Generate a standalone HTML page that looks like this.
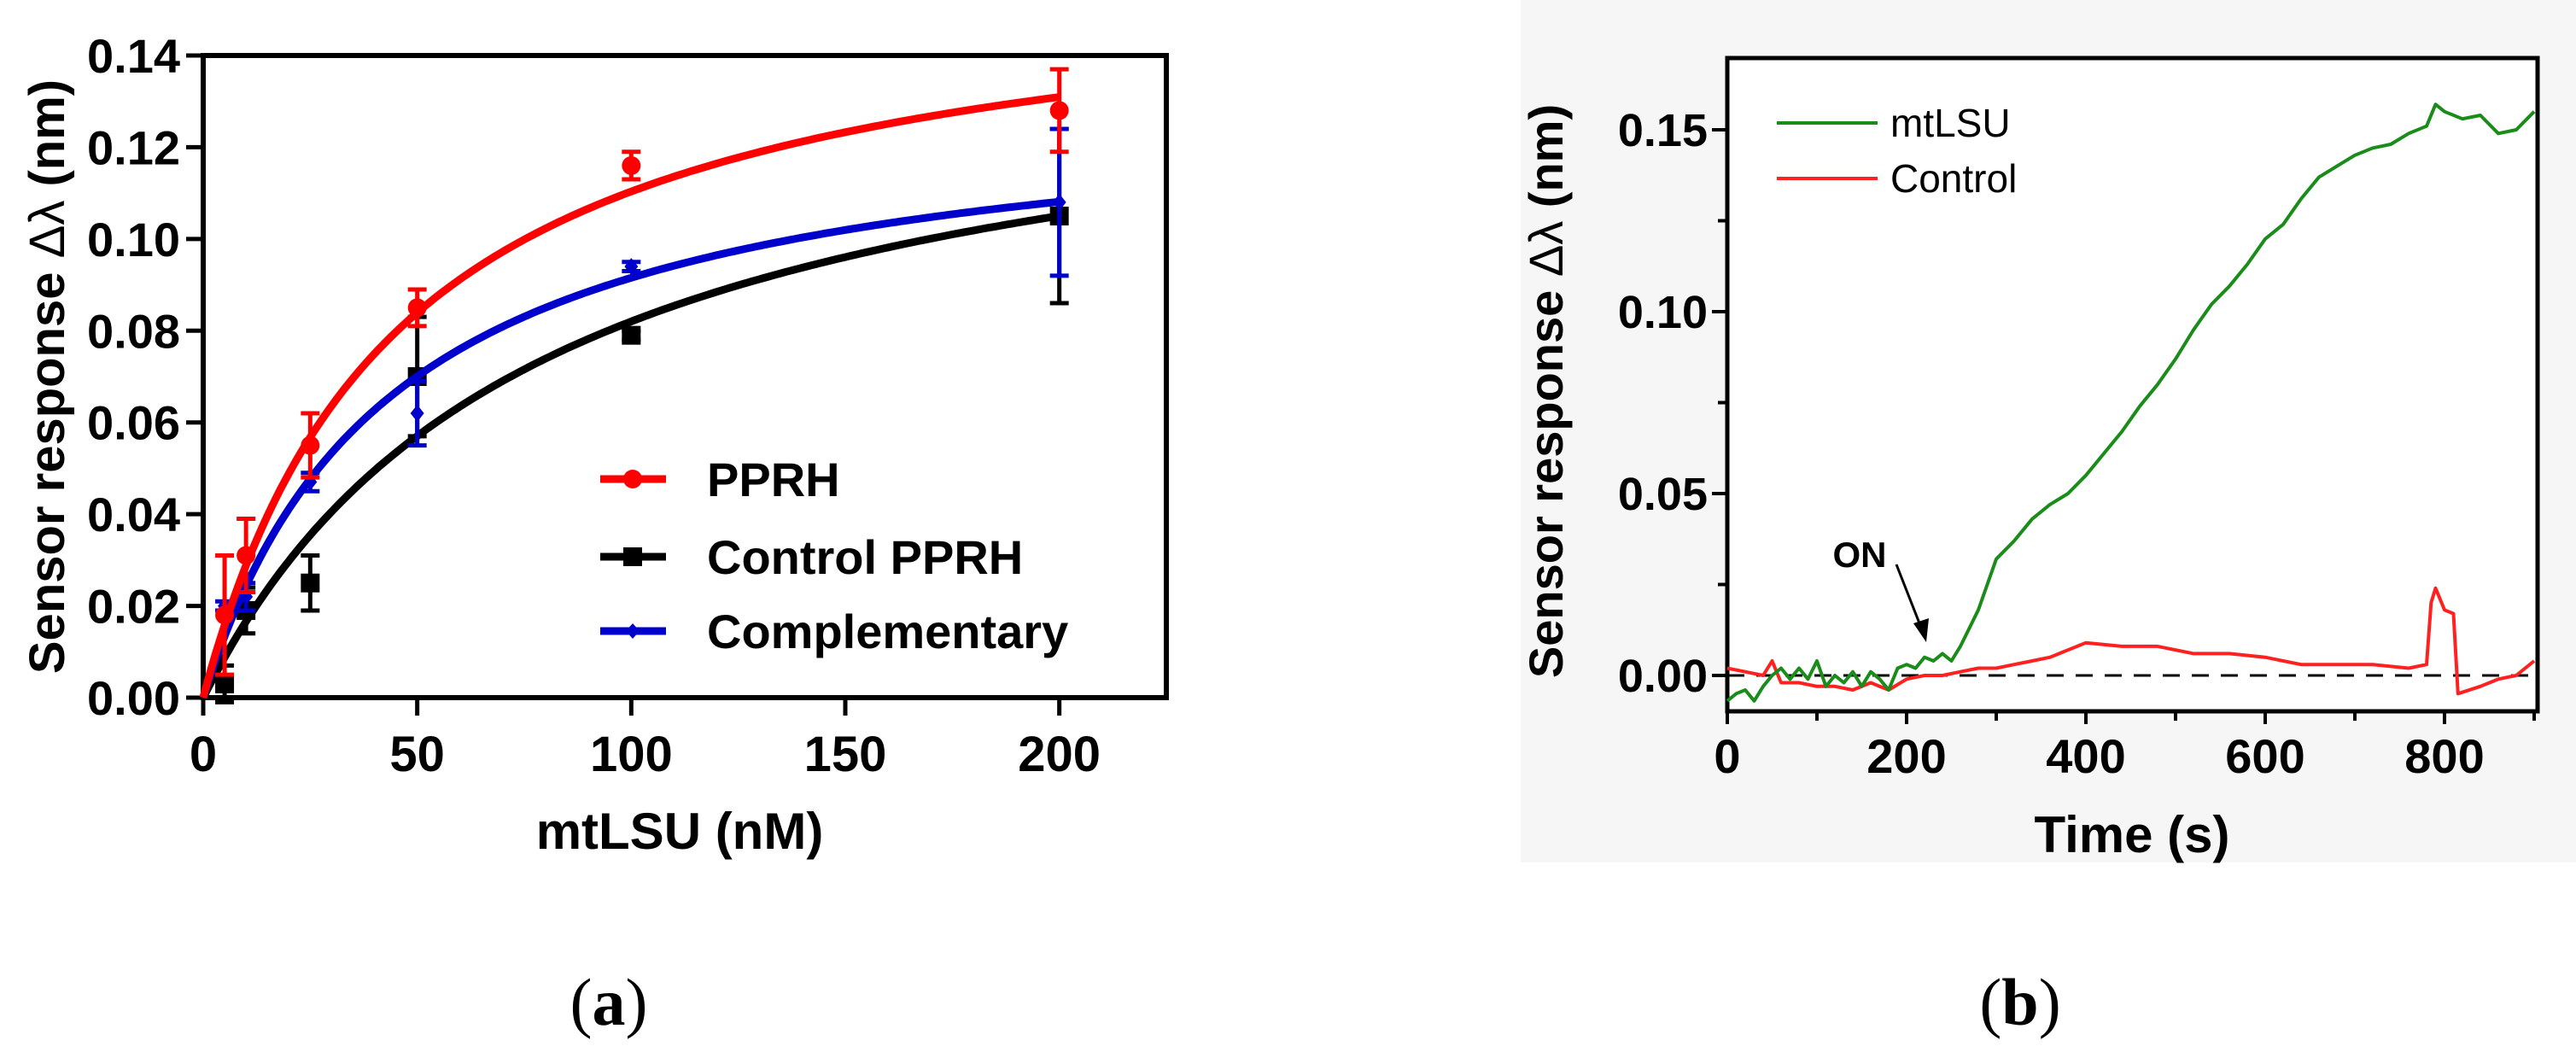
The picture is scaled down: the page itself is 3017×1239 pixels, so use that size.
<!DOCTYPE html>
<html><head><meta charset="utf-8"><style>
html,body{margin:0;padding:0;background:#fff;}
svg{display:block;font-family:"Liberation Sans",sans-serif;}
</style></head><body>
<svg id="svg" width="3017" height="1239" viewBox="0 0 3017 1239">
<rect x="1781" y="0" width="1236" height="1010" fill="#f6f6f6"/>
<rect x="2023" y="68" width="949" height="765" fill="#fff"/>
<g id="ga"></g>
<g id="gb"></g>
<text x="713" y="1200" font-family="Liberation Serif,serif" font-size="78" text-anchor="middle">(<tspan font-weight="bold">a</tspan>)</text>
<text x="2366" y="1200" font-family="Liberation Serif,serif" font-size="78" text-anchor="middle">(<tspan font-weight="bold">b</tspan>)</text>
</svg>
<script>
// Panel A data
const concA = [5, 10, 25, 50, 100, 200];
const pprhVals = [0.018, 0.031, 0.055, 0.085, 0.116, 0.128];
const pprhErr = [0.013, 0.008, 0.007, 0.004, 0.003, 0.009];
const ctrlVals = [0.003, 0.019, 0.025, 0.070, 0.079, 0.105];
const ctrlErr = [0.004, 0.005, 0.006, 0.013, 0.001, 0.019];
const compVals = [0.020, 0.022, 0.047, 0.062, 0.094, 0.108];
const compErr = [0.001, 0.003, 0.002, 0.007, 0.001, 0.016];
const fitPPRH = [0.161, 45.9];
const fitCtrl = [0.146, 78];
const fitComp = [0.132, 44.2];
const xTicksA = [0, 50, 100, 150, 200];
const yTicksA = [0, 0.02, 0.04, 0.06, 0.08, 0.10, 0.12, 0.14];
// Panel B data
const timeB = [0,10,20,30,40,50,60,70,80,90,100,110,120,130,140,150,160,170,180,190,200,210,220,230,240,250,260,270,280,290,300,320,340,360,380,400,420,440,460,480,500,520,540,560,580,600,620,640,660,680,700,720,740,760,780,790,800,820,840,860,880,900];
const mtlsuVals = [-0.007,-0.005,-0.004,-0.007,-0.003,0.0,0.002,-0.001,0.002,-0.001,0.004,-0.003,0.0,-0.002,0.001,-0.003,0.001,-0.001,-0.004,0.002,0.003,0.002,0.005,0.004,0.006,0.004,0.008,0.013,0.018,0.025,0.032,0.037,0.043,0.047,0.050,0.055,0.061,0.067,0.074,0.080,0.087,0.095,0.102,0.107,0.113,0.120,0.124,0.131,0.137,0.140,0.143,0.145,0.146,0.149,0.151,0.157,0.155,0.153,0.154,0.149,0.150,0.155];
const ctrlTimeB = [0,20,40,50,60,80,100,120,140,160,180,200,220,240,260,280,300,320,340,360,380,400,440,480,520,560,600,640,680,720,760,780,785,790,800,810,815,840,860,880,900];
const controlVals = [0.002,0.001,0.0,0.004,-0.002,-0.002,-0.003,-0.003,-0.004,-0.002,-0.004,-0.001,0.0,0.0,0.001,0.002,0.002,0.003,0.004,0.005,0.007,0.009,0.008,0.008,0.006,0.006,0.005,0.003,0.003,0.003,0.002,0.003,0.020,0.024,0.018,0.017,-0.005,-0.003,-0.001,0.0,0.004];
const xTicksB = [0, 200, 400, 600, 800];
const yTicksB = [0, 0.05, 0.10, 0.15];

const NS = "http://www.w3.org/2000/svg";
function mk(parent, tag, attrs, txt){const e=document.createElementNS(NS,tag);for(const k in attrs)e.setAttribute(k,attrs[k]);if(txt!==undefined)e.textContent=txt;parent.appendChild(e);return e;}

// ---- Panel A ----
const ga = document.getElementById('ga');
const ax = v => 238 + (v/225)*(1366-238);
const ay = v => 817 - (v/0.14)*(817-65);
let frame = mk(ga,'path',{d:`M238,65 H1366 V817 H238 Z`,fill:'none',stroke:'#000','stroke-width':6});


xTicksA.forEach(t=>{
  const l=mk(ga,'line',{x1:ax(t),x2:ax(t),y1:817,y2:838,stroke:'#000','stroke-width':5});
  
  
  const tx=mk(ga,'text',{x:ax(t),y:903,'font-size':58,'font-weight':'bold','text-anchor':'middle'},String(t));
  
  
});
yTicksA.forEach(t=>{
  const l=mk(ga,'line',{x1:218,x2:238,y1:ay(t),y2:ay(t),stroke:'#000','stroke-width':5});
  
  
  const tx=mk(ga,'text',{x:211,y:ay(t)+20,'font-size':56,'font-weight':'bold','text-anchor':'end'},t.toFixed(2));
  
  
});
let xla=mk(ga,'text',{x:ax(112.5)-6,y:994,'font-size':60,'font-weight':'bold','text-anchor':'middle'},'mtLSU (nM)');


let yla=mk(ga,'text',{x:0,y:0,'font-size':58,'font-weight':'bold','text-anchor':'middle',transform:'translate(75,441) rotate(-90)'});


mk(yla,'tspan',{},'Sensor response ');
mk(yla,'tspan',{'font-weight':'normal'},'Δλ');
mk(yla,'tspan',{},' (nm)');

function fitPath(p){let d='';for(let i=0;i<=200;i++){const x=i;const y=p[0]*x/(p[1]+x);d+=(i?'L':'M')+ax(x).toFixed(1)+','+ay(y).toFixed(1);}return d;}
function seriesA(vals, errs, fit, color, name, shape){
  const g=mk(ga,'g',{});
  
  
  const p=mk(g,'path',{d:fitPath(fit),fill:'none',stroke:color,'stroke-width':9});
  
  
  concA.forEach((c,i)=>{
    const x=ax(c),y1=ay(vals[i]+errs[i]),y2=ay(vals[i]-errs[i]);
    const e=mk(g,'path',{d:`M${x},${y1}V${y2}M${x-11},${y1}H${x+11}M${x-11},${y2}H${x+11}`,stroke:color,'stroke-width':5,fill:'none'});
    
    
    let m;
    if(shape==='circle') m=mk(g,'circle',{cx:x,cy:ay(vals[i]),r:11,fill:color});
    else if(shape==='square') m=mk(g,'rect',{x:x-11,y:ay(vals[i])-11,width:22,height:22,fill:color});
    else m=mk(g,'path',{d:`M${x},${ay(vals[i])-10}L${x+8},${ay(vals[i])}L${x},${ay(vals[i])+10}L${x-8},${ay(vals[i])}Z`,fill:color});
    
    
  });
}
seriesA(ctrlVals, ctrlErr, fitCtrl, '#000', 'control-pprh', 'square');
seriesA(compVals, compErr, fitComp, '#0000cc', 'complementary', 'diamond');
seriesA(pprhVals, pprhErr, fitPPRH, '#ff0000', 'pprh', 'circle');

const legA=[['PPRH','#ff0000','circle',561],['Control PPRH','#000','square',652],['Complementary','#0000cc','diamond',739]];
legA.forEach(L=>{
  const g=mk(ga,'g',{});
  
  
  mk(g,'line',{x1:703,x2:780,y1:L[3],y2:L[3],stroke:L[1],'stroke-width':9});
  if(L[2]==='circle') mk(g,'circle',{cx:741,cy:L[3],r:11,fill:L[1]});
  else if(L[2]==='square') mk(g,'rect',{x:730,y:L[3]-11,width:22,height:22,fill:L[1]});
  else mk(g,'path',{d:`M741,${L[3]-9}L749,${L[3]}L741,${L[3]+9}L733,${L[3]}Z`,fill:L[1]});
  mk(g,'text',{x:828,y:L[3]+20,'font-size':56,'font-weight':'bold'},L[0]);
});

// ---- Panel B ----
const gb=document.getElementById('gb');
const bx = v => 2023 + v*(210/200);
const by = v => 791 - v*(639/0.15);
let fb=mk(gb,'path',{d:`M2023,68 H2972 V833 H2023 Z`,fill:'none',stroke:'#000','stroke-width':5});


let zl=mk(gb,'line',{x1:2023,x2:2972,y1:by(0),y2:by(0),stroke:'#000','stroke-width':3,'stroke-dasharray':'20 14'});


for(let t=0;t<=900;t+=100){
  const major=xTicksB.includes(t);
  const l=mk(gb,'line',{x1:bx(t),x2:bx(t),y1:833,y2:major?848:844,stroke:'#000','stroke-width':4});
  
  
}
xTicksB.forEach(t=>{
  const tx=mk(gb,'text',{x:bx(t),y:905,'font-size':56,'font-weight':'bold','text-anchor':'middle'},String(t));
  
  
});
for(let v=0;v<=0.15001;v+=0.025){
  const major=Math.abs(v*20-Math.round(v*20))<1e-6;
  const l=mk(gb,'line',{x1:major?2005:2012,x2:2023,y1:by(v),y2:by(v),stroke:'#000','stroke-width':4});
  
  
}
yTicksB.forEach(t=>{
  const tx=mk(gb,'text',{x:2000,y:by(t)+19,'font-size':54,'font-weight':'bold','text-anchor':'end'},t.toFixed(2));
  
  
});
let xlb=mk(gb,'text',{x:2497,y:998,'font-size':60,'font-weight':'bold','text-anchor':'middle'},'Time (s)');


let ylb=mk(gb,'text',{x:0,y:0,'font-size':56,'font-weight':'bold','text-anchor':'middle',transform:'translate(1830,458) rotate(-90)'});


mk(ylb,'tspan',{},'Sensor response ');
mk(ylb,'tspan',{'font-weight':'normal'},'Δλ');
mk(ylb,'tspan',{},' (nm)');

function linePath(xs,ys){return xs.map((t,i)=>(i?'L':'M')+bx(t).toFixed(1)+','+by(ys[i]).toFixed(1)).join('');}
let cl=mk(gb,'path',{d:linePath(ctrlTimeB,controlVals),fill:'none',stroke:'#ff2020','stroke-width':4,'stroke-linejoin':'round'});


let gl=mk(gb,'path',{d:linePath(timeB,mtlsuVals),fill:'none',stroke:'#1a8c1a','stroke-width':4,'stroke-linejoin':'round'});



let on=mk(gb,'text',{x:2178,y:664,'font-size':42,'font-weight':'bold','text-anchor':'middle'},'ON');


let ar=mk(gb,'path',{d:'M2221,661 L2252,740',stroke:'#000','stroke-width':3,fill:'none'});


let ah=mk(gb,'path',{d:'M2256,752 L2241,730 L2259,724 Z',fill:'#000'});



const legB=[['mtLSU','#1a8c1a',144],['Control','#ff2020',209]];
legB.forEach(L=>{
  const g=mk(gb,'g',{});
  
  
  mk(g,'line',{x1:2081,x2:2199,y1:L[2],y2:L[2],stroke:L[1],'stroke-width':4});
  mk(g,'text',{x:2214,y:L[2]+16,'font-size':46},L[0]);
});
</script>
</body></html>
